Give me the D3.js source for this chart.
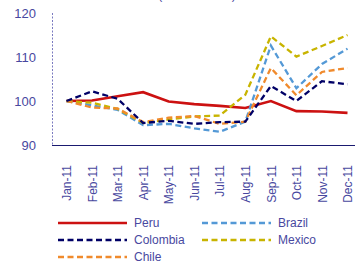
<!DOCTYPE html>
<html>
<head>
<meta charset="utf-8">
<script src="https://cdn.jsdelivr.net/npm/d3@7"></script>
<style>
  body { margin: 0; background: #fff; }
  svg { display: block; font-family: Arial, "Liberation Sans", sans-serif; }
</style>
</head>
<body>
<svg id="chart" width="355" height="261"></svg>
<script>
// --------------------------------------------------------------------------------------
// data
// --------------------------------------------------------------------------------------
var months = ["Jan-11", "Feb-11", "Mar-11", "Apr-11", "May-11", "Jun-11",
              "Jul-11", "Aug-11", "Sep-11", "Oct-11", "Nov-11", "Dec-11"];
var y_ticks = [90, 100, 110, 120];

var peru     = [100, 100.1, 101.1, 102, 99.9, 99.3, 98.9, 98.4, 100, 97.7, 97.6, 97.3];
var colombia = [100, 102.2, 100.5, 95, 95.5, 94.8, 95.2, 95.3, 103.4, 100, 104.5, 103.8];
var brazil   = [100, 99, 98, 94.5, 94.8, 93.8, 93, 95.3, 112.6, 102.9, 108.4, 111.9];
var mexico   = [100, 99.6, 98.2, 95, 95.8, 96.5, 96.7, 101.4, 114.7, 110.1, 112.5, 115];
var chile    = [100, 98.5, 98.3, 95.2, 96.2, 96.6, 94.8, 95.3, 107.5, 101.3, 106.6, 107.5];

var series = [
  { name: "Peru",     values: peru,     color: "#cc1111", dash: null },
  { name: "Brazil",   values: brazil,   color: "#5499d6", dash: "6,3.5" },
  { name: "Colombia", values: colombia, color: "#000066", dash: "6,3.5" },
  { name: "Mexico",   values: mexico,   color: "#c8b400", dash: "6,3.5" },
  { name: "Chile",    values: chile,    color: "#f08a2c", dash: "6,3.5" }
];

var text_color = "#4848a0";

// --------------------------------------------------------------------------------------
var svg = d3.select("#chart");

var x = d3.scalePoint()
          .domain(months)
          .range([66.5, 347.5]);
var y = d3.scaleLinear()
          .domain([90, 120])
          .range([145, 13]);

// title (cut off at top)
svg.append("text")
   .attr("x", 197)
   .attr("y", -1)
   .attr("text-anchor", "middle")
   .style("font-size", "12px")
   .style("fill", text_color)
   .text("(Jan-11 = 100)");

// ==================================================
// y axis: dashed vertical line + labels
svg.append("line")
   .attr("x1", 52.5).attr("x2", 52.5)
   .attr("y1", y(120)).attr("y2", y(90))
   .style("stroke", "#7a7ac0")
   .style("stroke-width", 1)
   .style("stroke-dasharray", "2,1.5");

svg.selectAll(".ytick")
   .data(y_ticks)
   .enter()
   .append("text")
   .attr("class", "ytick")
   .attr("x", 36)
   .attr("y", function(d) { return y(d); })
   .attr("dy", "0.35em")
   .attr("text-anchor", "end")
   .style("font-size", "13px")
   .style("fill", text_color)
   .text(function(d) { return d; });

// ==================================================
// x axis
var x_axis = svg.append("g")
                .attr("transform", "translate(0," + y(90) + ")")
                .call(d3.axisBottom(x).tickSize(0).tickPadding(0));

x_axis.select(".domain")
      .attr("d", "M52,0.5H355")
      .style("stroke", "#1a1a70")
      .style("stroke-width", 1.2);

x_axis.selectAll("text")
      .attr("transform", "rotate(-90)")
      .attr("x", -20)
      .attr("y", 0)
      .attr("dy", "0.35em")
      .style("text-anchor", "end")
      .style("font-size", "12px")
      .style("font-family", "Arial, 'Liberation Sans', sans-serif")
      .style("fill", text_color);

// ==================================================
// lines
var line = d3.line()
             .x(function(d, i) { return x(months[i]); })
             .y(function(d) { return y(d); });

// draw order: peru at the bottom, dashed lines on top
var draw_order = ["Peru", "Brazil", "Mexico", "Chile", "Colombia"];
draw_order.forEach(function(name) {
  var s = series.filter(function(d) { return d.name == name; })[0];
  svg.append("path")
     .datum(s.values)
     .attr("d", line)
     .style("fill", "none")
     .style("stroke", s.color)
     .style("stroke-width", name == "Peru" ? 2.6 : 2.3)
     .style("stroke-dasharray", s.dash);
});

// ==================================================
// legend
var legend = svg.selectAll(".legend")
                .data(series)
                .enter()
                .append("g")
                .attr("class", "legend")
                .attr("transform", function(d, i) {
                  return "translate(" + (i % 2 == 0 ? 58 : 202) + "," + (223 + Math.floor(i / 2) * 17) + ")";
                });

legend.append("line")
      .attr("x1", 0).attr("x2", 69)
      .attr("y1", 0).attr("y2", 0)
      .style("stroke", function(d) { return d.color; })
      .style("stroke-width", function(d) { return d.name == "Peru" ? 2.6 : 2.3; })
      .style("stroke-dasharray", function(d) { return d.dash; });

legend.append("text")
      .attr("x", 76)
      .attr("y", 0)
      .attr("dy", "0.35em")
      .style("font-size", "12px")
      .style("fill", text_color)
      .text(function(d) { return d.name; });
</script>
</body>
</html>
